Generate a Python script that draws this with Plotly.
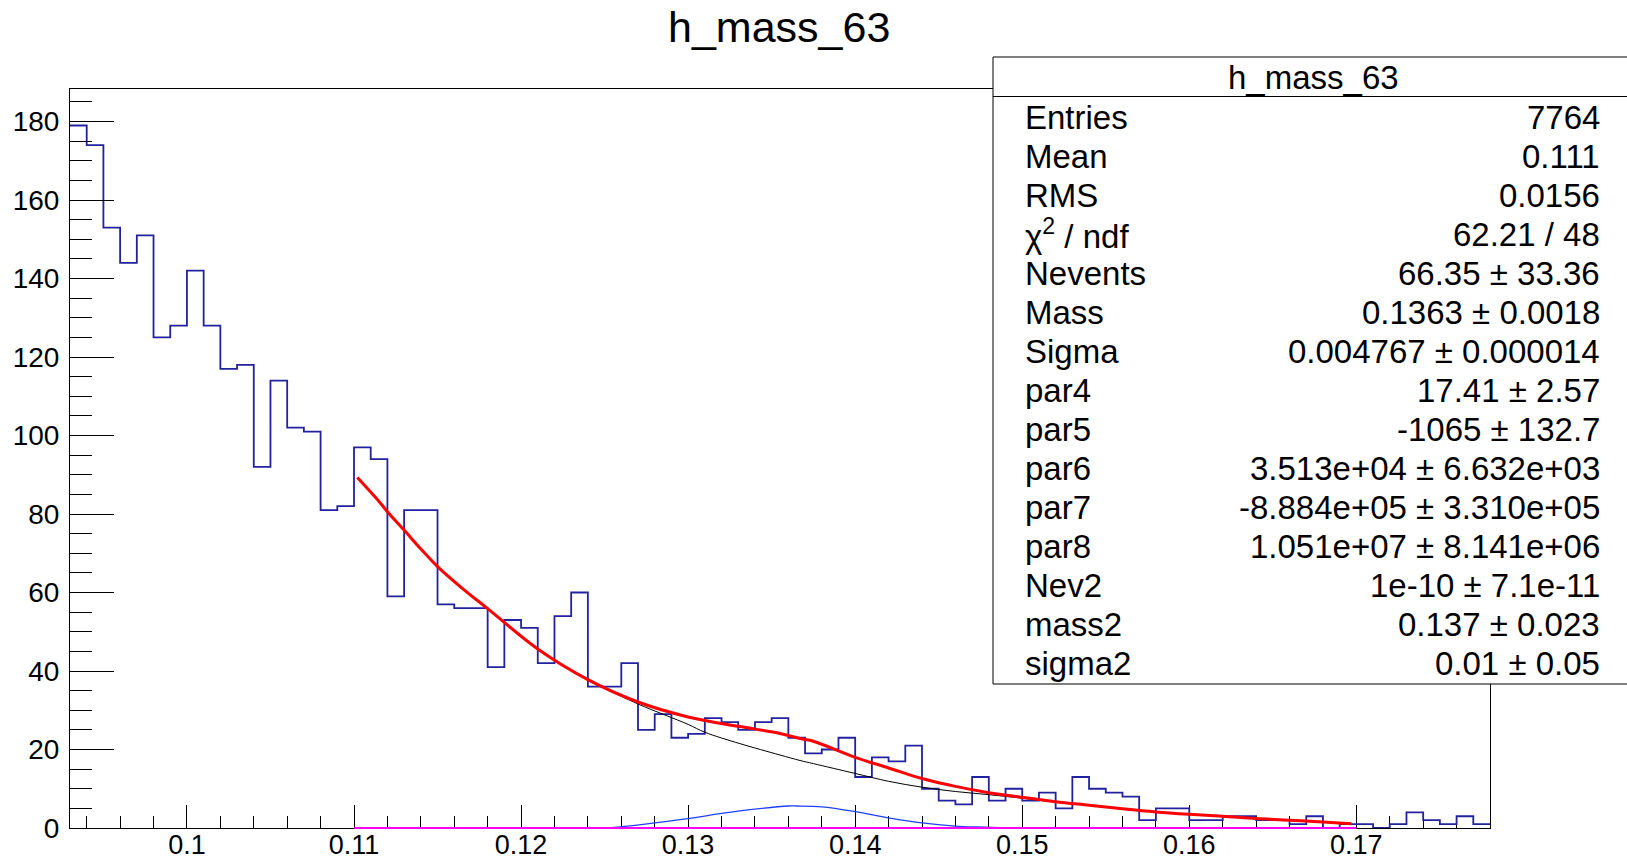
import plotly.graph_objects as go

# ---------------- data ----------------
bin_low = 0.093
bin_width = 0.001
counts = [179, 174, 153, 144, 151, 125, 128, 142, 128, 117,
          118, 92, 114, 102, 101, 81, 82, 97, 94, 59,
          81, 81, 57, 56, 56, 41, 53, 51, 42, 54,
          60, 36, 36, 42, 25, 29, 23, 24, 28, 27,
          25, 27, 28, 23, 19, 20, 23, 13, 18, 17,
          21, 10, 7, 6, 13, 7, 10, 7, 9, 5,
          13, 10, 9, 8, 2, 5, 5, 2, 2, 3,
          3, 2, 2, 1, 3, 0, 1, 1, 0, 1,
          4, 2, 1, 3, 1]

total_x = [0.1102, 0.1115, 0.1120, 0.1130, 0.1140, 0.1150, 0.1165, 0.1180, 0.1210, 0.1240,
           0.1270, 0.1300, 0.1330, 0.1355, 0.1367, 0.1375, 0.1400, 0.1420, 0.1440,
           0.1460, 0.1480, 0.1500, 0.1520, 0.1540, 0.1560, 0.1580, 0.1600, 0.1620,
           0.1640, 0.1660, 0.1680, 0.1697]
total_y = [89.3, 83.2, 80.6, 75.9, 71.1, 66.6, 61.0, 55.9, 45.6, 37.8,
           32.1, 28.3, 25.9, 24.1, 22.8, 22.1, 18.0, 15.3, 12.6,
           10.6, 9.0, 7.8, 6.7, 5.8, 4.9, 4.1, 3.5, 3.0,
           2.4, 2.0, 1.5, 1.1]

bkg_x = [0.1240, 0.1270, 0.1300, 0.1310, 0.1331, 0.1355, 0.1367, 0.1375,
         0.1400, 0.1420, 0.1440, 0.1460, 0.1480, 0.1500, 0.1520, 0.1537]
bkg_y = [37.6, 31.6, 26.4, 24.4, 21.5, 18.6, 17.2, 16.4,
         13.9, 11.9, 10.4, 9.3, 8.5, 7.6, 6.6, 5.9]

sig_x = [0.1220, 0.1253, 0.1262, 0.1280, 0.1300, 0.1320, 0.1340, 0.1360, 0.1365,
         0.1380, 0.1400, 0.1420, 0.1440, 0.1460, 0.1473, 0.1490, 0.1505]
sig_y = [0.0, 0.05, 0.4, 1.3, 2.4, 3.7, 4.8, 5.6, 5.6,
         5.4, 4.2, 2.6, 1.3, 0.5, 0.25, 0.05, 0.0]

sig2_x = [0.110, 0.170]
sig2_y = [0.0, 0.0]

x_range = [0.093, 0.178]
y_range = [0, 188.3]

title_text = "h_mass_63"
stat_labels = ["Entries", "Mean", "RMS", "χ<sup>2</sup> / ndf", "Nevents", "Mass",
               "Sigma", "par4", "par5", "par6", "par7", "par8", "Nev2", "mass2", "sigma2"]
stat_values = ["7764", "0.111", "0.0156", "62.21 / 48", "66.35 ± 33.36",
               "0.1363 ± 0.0018", "0.004767 ± 0.000014", "17.41 ± 2.57",
               "-1065 ± 132.7", "3.513e+04 ± 6.632e+03", "-8.884e+05 ± 3.310e+05",
               "1.051e+07 ± 8.141e+06", "1e-10 ± 7.1e-11", "0.137 ± 0.023", "0.01 ± 0.05"]

# ---------------- layout geometry (pixels) ----------------
W, H = 1627, 862
ML, MR, MT, MB = 70, 137, 89, 34
PW = W - ML - MR
PH = H - MT - MB


def px(x):
    return (x - ML) / PW


def py(y):
    return (H - MB - y) / PH


FONT = "Liberation Sans, Arial, Helvetica, sans-serif"

edges = [bin_low + i * bin_width for i in range(len(counts) + 1)]
hist_y = counts + [counts[-1]]

fig = go.Figure()
fig.add_trace(go.Scatter(x=edges, y=hist_y, mode="lines", line_shape="hv",
                         line=dict(color="#22229e", width=1.8), hoverinfo="skip"))
fig.add_trace(go.Scatter(x=sig_x, y=sig_y, mode="lines", line_shape="spline",
                         line=dict(color="#2040ff", width=1.3), hoverinfo="skip"))
fig.add_trace(go.Scatter(x=bkg_x, y=bkg_y, mode="lines", line_shape="spline",
                         line=dict(color="black", width=1), hoverinfo="skip"))
fig.add_trace(go.Scatter(x=total_x, y=total_y, mode="lines", line_shape="spline",
                         line=dict(color="#ff0000", width=3), hoverinfo="skip"))

fig.update_layout(
    width=W, height=H,
    margin=dict(l=ML, r=MR, t=MT, b=MB, pad=0, autoexpand=False),
    paper_bgcolor="white", plot_bgcolor="white",
    showlegend=False,
    font=dict(family=FONT, color="black"),
    xaxis=dict(range=x_range, showgrid=False, zeroline=False, automargin=False,
               showline=True, linecolor="black", linewidth=1, mirror=True,
               ticks="inside", ticklen=23, tickwidth=1, tickcolor="black",
               tick0=0.1, dtick=0.01, tickfont=dict(size=27, family=FONT),
               ticklabelstandoff=-7,
               minor=dict(ticks="inside", ticklen=12, dtick=0.002, tickcolor="black",
                          tickwidth=1, showgrid=False),
               layer="below traces"),
    yaxis=dict(range=y_range, showgrid=False, zeroline=False, automargin=False,
               showline=True, linecolor="black", linewidth=1, mirror=True,
               ticks="inside", ticklen=44, tickwidth=1, tickcolor="black",
               tick0=0, dtick=20, tickfont=dict(size=28, family=FONT),
               ticklabelstandoff=4,
               minor=dict(ticks="inside", ticklen=22, dtick=5, tickcolor="black",
                          tickwidth=1, showgrid=False)),
)

# second gaussian (flat at zero) drawn on top of the x axis line
sig2_paper_y = [(v - y_range[0]) / (y_range[1] - y_range[0]) for v in sig2_y]
fig.add_shape(type="line", xref="x", yref="paper",
              x0=sig2_x[0], x1=sig2_x[-1], y0=sig2_paper_y[0], y1=sig2_paper_y[-1],
              line=dict(color="#ff00ff", width=2), layer="above")

# stats box
box_l, box_r, box_t, box_b, box_sep = 993, 1660, 57, 684, 96.5
fig.add_shape(type="rect", xref="paper", yref="paper",
              x0=px(box_l), x1=px(box_r), y0=py(box_b), y1=py(box_t),
              line=dict(color="black", width=1), fillcolor="white", layer="above")
fig.add_shape(type="line", xref="paper", yref="paper",
              x0=px(box_l), x1=px(box_r), y0=py(box_sep), y1=py(box_sep),
              line=dict(color="black", width=1), layer="above")

# main title
fig.add_annotation(text=title_text, xref="paper", yref="paper",
                   x=px(779), y=py(27), xanchor="center", yanchor="middle",
                   showarrow=False, font=dict(size=43, family=FONT, color="black"))
# stats title
fig.add_annotation(text=title_text, xref="paper", yref="paper",
                   x=px(1313), y=py(77), xanchor="center", yanchor="middle",
                   showarrow=False, font=dict(size=33, family=FONT, color="black"))

row0, drow = 117.4, 39.0
for i, (lab, val) in enumerate(zip(stat_labels, stat_values)):
    yy = row0 + i * drow
    fig.add_annotation(text=lab, xref="paper", yref="paper", x=px(1023), y=py(yy),
                       xanchor="left", yanchor="middle", showarrow=False,
                       font=dict(size=33, family=FONT, color="black"))
    fig.add_annotation(text=val, xref="paper", yref="paper", x=px(1602), y=py(yy),
                       xanchor="right", yanchor="middle", showarrow=False,
                       font=dict(size=33, family=FONT, color="black"))

fig.write_html("out.html")
